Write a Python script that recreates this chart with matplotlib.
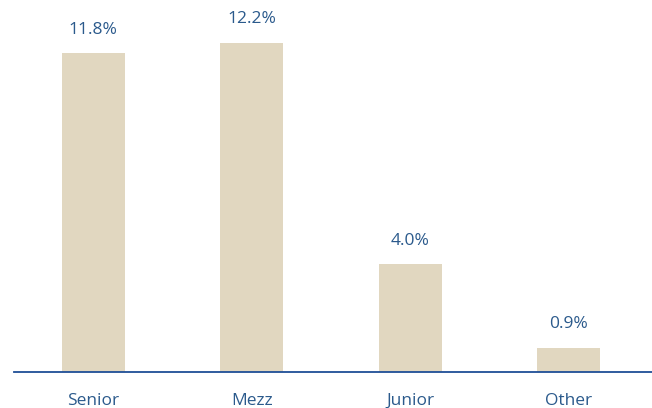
import matplotlib.pyplot as plt

# data
categories = ['Senior', 'Mezz', 'Junior', 'Other']
values = [11.8, 12.2, 4.0, 0.9]
labels = ['11.8%', '12.2%', '4.0%', '0.9%']

bar_color = '#E1D7C0'
text_color = '#2B5A8C'
line_color = '#1F4E96'

plt.rcParams['font.family'] = ['Open Sans', 'DejaVu Sans']

fig = plt.figure(figsize=(6.52, 4.08), dpi=100)
ax = fig.add_axes([14 / 652, 36 / 408, 638 / 652, 372 / 408])

x = range(len(categories))
bars = ax.bar(x, values, width=0.4, color=bar_color)

for b, lab in zip(bars, labels):
    ax.annotate(lab, (b.get_x() + b.get_width() / 2, b.get_height()),
                xytext=(0, 11), textcoords='offset points',
                ha='center', va='bottom', color=text_color, fontsize=12.5)

ax.set_xlim(-0.5, 3.5 + 4 / 158.5)
ax.set_ylim(0, 372 / 27.0)
ax.set_xticks(list(x))
ax.set_xticklabels(categories, color=text_color, fontsize=12.5)
ax.tick_params(axis='x', length=0, pad=15)
ax.set_yticks([])
for s in ['top', 'right', 'left']:
    ax.spines[s].set_visible(False)
ax.spines['bottom'].set_color(line_color)
ax.spines['bottom'].set_linewidth(1.3)

fig.savefig('out.png', dpi=100)
